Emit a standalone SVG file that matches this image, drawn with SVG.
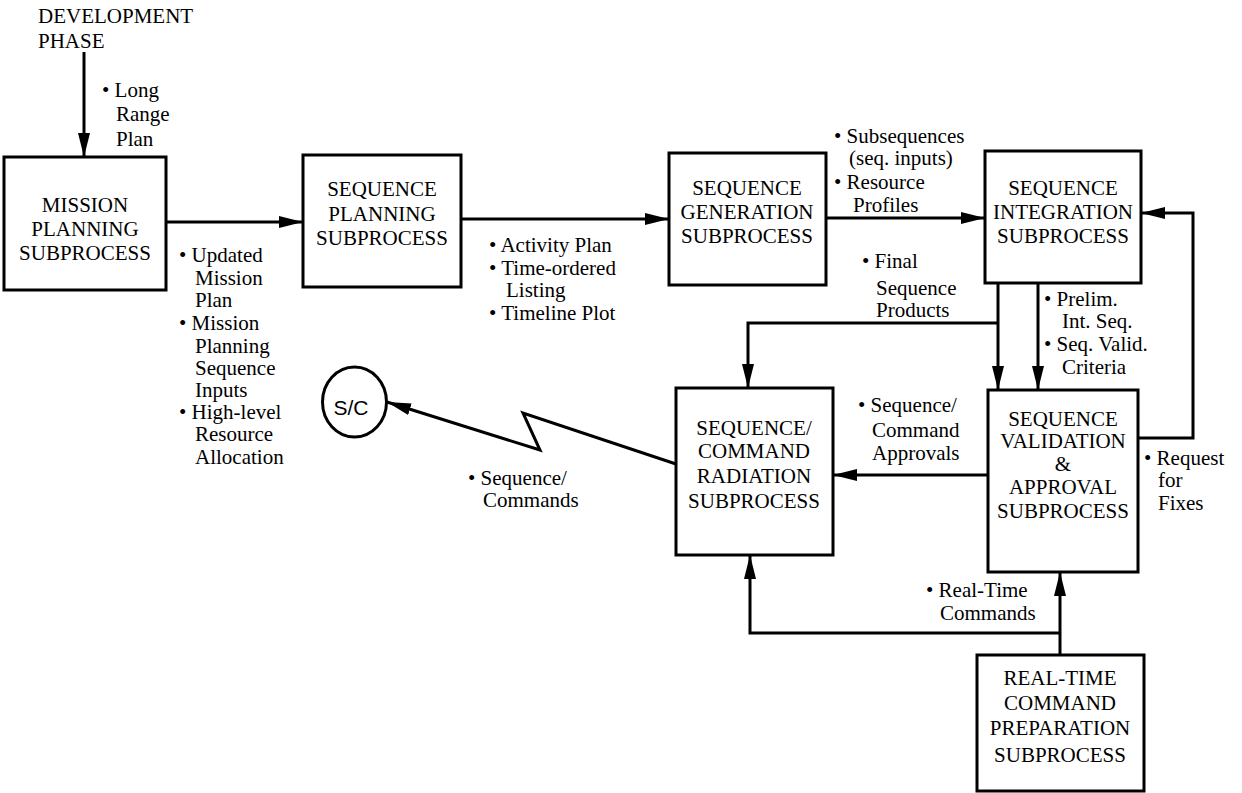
<svg xmlns="http://www.w3.org/2000/svg" width="1242" height="793" viewBox="0 0 1242 793">
<style>
.box{fill:#fff;stroke:#000;stroke-width:3}
.bt{font-family:'Liberation Serif','DejaVu Serif','Noto Serif',Tinos,'Times New Roman',serif;font-size:21px;text-anchor:middle;fill:#000}
.lb{font-family:'Liberation Serif','DejaVu Serif','Noto Serif',Tinos,'Times New Roman',serif;font-size:21px;fill:#000}
.ln{fill:none;stroke:#000;stroke-width:3}
.sc{font-family:'Liberation Sans',Arial,sans-serif;font-size:21px;text-anchor:middle}
</style>
<defs>
<marker id="ah" markerUnits="userSpaceOnUse" markerWidth="24" markerHeight="12" refX="24" refY="6" orient="auto">
<path d="M0,0 L24,6 L0,12 z" fill="#000"/>
</marker>
</defs>
<rect width="1242" height="793" fill="#fff"/>

<g id="connectors">
<path class="ln" d="M84,52 V157" marker-end="url(#ah)"/>
<path class="ln" d="M166,222 H303" marker-end="url(#ah)"/>
<path class="ln" d="M461,219 H669" marker-end="url(#ah)"/>
<path class="ln" d="M826,218 H985" marker-end="url(#ah)"/>
<path class="ln" d="M1138,438 H1193 V213 H1141" marker-end="url(#ah)"/>
<path class="ln" d="M998,283 V390" marker-end="url(#ah)"/>
<path class="ln" d="M1038,283 V390" marker-end="url(#ah)"/>
<path class="ln" d="M998,323 H748 V388" marker-end="url(#ah)"/>
<path class="ln" d="M988,475 H833" marker-end="url(#ah)"/>
<path class="ln" d="M1060,655 V572" marker-end="url(#ah)"/>
<path class="ln" d="M1060,633 H750 V555" marker-end="url(#ah)"/>
<path class="ln" d="M676,464 L523,413 L540,450 L387,402" marker-end="url(#ah)"/>
</g>

<g id="dev-phase">
<text class="lb" x="38" y="23">DEVELOPMENT</text>
<text class="lb" x="38" y="48">PHASE</text>
</g>

<g id="mission">
<rect class="box" x="4" y="157" width="162" height="133"/>
<text class="bt" x="85" y="212">MISSION</text>
<text class="bt" x="85" y="236">PLANNING</text>
<text class="bt" x="85" y="260">SUBPROCESS</text>
</g>

<g id="seq-planning">
<rect class="box" x="303" y="155" width="158" height="132"/>
<text class="bt" x="382" y="196">SEQUENCE</text>
<text class="bt" x="382" y="221">PLANNING</text>
<text class="bt" x="382" y="245">SUBPROCESS</text>
</g>

<g id="seq-generation">
<rect class="box" x="669" y="153" width="157" height="132"/>
<text class="bt" x="747" y="195">SEQUENCE</text>
<text class="bt" x="747" y="219">GENERATION</text>
<text class="bt" x="747" y="243">SUBPROCESS</text>
</g>

<g id="seq-integration">
<rect class="box" x="985" y="151" width="156" height="132"/>
<text class="bt" x="1063" y="195">SEQUENCE</text>
<text class="bt" x="1063" y="219">INTEGRATION</text>
<text class="bt" x="1063" y="243">SUBPROCESS</text>
</g>

<g id="seq-validation">
<rect class="box" x="988" y="390" width="150" height="182"/>
<text class="bt" x="1063" y="426">SEQUENCE</text>
<text class="bt" x="1063" y="448">VALIDATION</text>
<text class="bt" x="1063" y="471">&amp;</text>
<text class="bt" x="1063" y="494">APPROVAL</text>
<text class="bt" x="1063" y="518">SUBPROCESS</text>
</g>

<g id="seq-radiation">
<rect class="box" x="676" y="388" width="157" height="167"/>
<text class="bt" x="754" y="435">SEQUENCE/</text>
<text class="bt" x="754" y="458">COMMAND</text>
<text class="bt" x="754" y="483">RADIATION</text>
<text class="bt" x="754" y="508">SUBPROCESS</text>
</g>

<g id="realtime-prep">
<rect class="box" x="977" y="655" width="167" height="136"/>
<text class="bt" x="1060" y="685">REAL-TIME</text>
<text class="bt" x="1060" y="710">COMMAND</text>
<text class="bt" x="1060" y="735">PREPARATION</text>
<text class="bt" x="1060" y="762">SUBPROCESS</text>
</g>

<g id="sc">
<ellipse cx="354.5" cy="402" rx="32" ry="35" fill="#fff" stroke="#000" stroke-width="3"/>
<text class="sc" x="351" y="415">S/C</text>
</g>

<g id="labels">
<text class="lb" x="102" y="97">• Long</text>
<text class="lb" x="116" y="121">Range</text>
<text class="lb" x="116" y="146">Plan</text>

<text class="lb" x="179" y="262">• Updated</text>
<text class="lb" x="195" y="285">Mission</text>
<text class="lb" x="195" y="307">Plan</text>
<text class="lb" x="179" y="330">• Mission</text>
<text class="lb" x="195" y="353">Planning</text>
<text class="lb" x="195" y="375">Sequence</text>
<text class="lb" x="195" y="397">Inputs</text>
<text class="lb" x="179" y="419">• High-level</text>
<text class="lb" x="195" y="441">Resource</text>
<text class="lb" x="195" y="464">Allocation</text>

<text class="lb" x="489" y="252">• Activity Plan</text>
<text class="lb" x="489" y="275">• Time-ordered</text>
<text class="lb" x="506" y="297">Listing</text>
<text class="lb" x="489" y="320">• Timeline Plot</text>

<text class="lb" x="834" y="143">• Subsequences</text>
<text class="lb" x="849" y="165">(seq. inputs)</text>
<text class="lb" x="834" y="189">• Resource</text>
<text class="lb" x="853" y="212">Profiles</text>

<text class="lb" x="862" y="268">• Final</text>
<text class="lb" x="876" y="295">Sequence</text>
<text class="lb" x="876" y="317">Products</text>

<text class="lb" x="1044" y="306">• Prelim.</text>
<text class="lb" x="1062" y="328">Int. Seq.</text>
<text class="lb" x="1044" y="351">• Seq. Valid.</text>
<text class="lb" x="1062" y="374">Criteria</text>

<text class="lb" x="858" y="412">• Sequence/</text>
<text class="lb" x="872" y="437">Command</text>
<text class="lb" x="872" y="460">Approvals</text>

<text class="lb" x="1144" y="465">• Request</text>
<text class="lb" x="1158" y="487">for</text>
<text class="lb" x="1158" y="510">Fixes</text>

<text class="lb" x="468" y="485">• Sequence/</text>
<text class="lb" x="483" y="507">Commands</text>

<text class="lb" x="926" y="597">• Real-Time</text>
<text class="lb" x="940" y="620">Commands</text>
</g>
</svg>
